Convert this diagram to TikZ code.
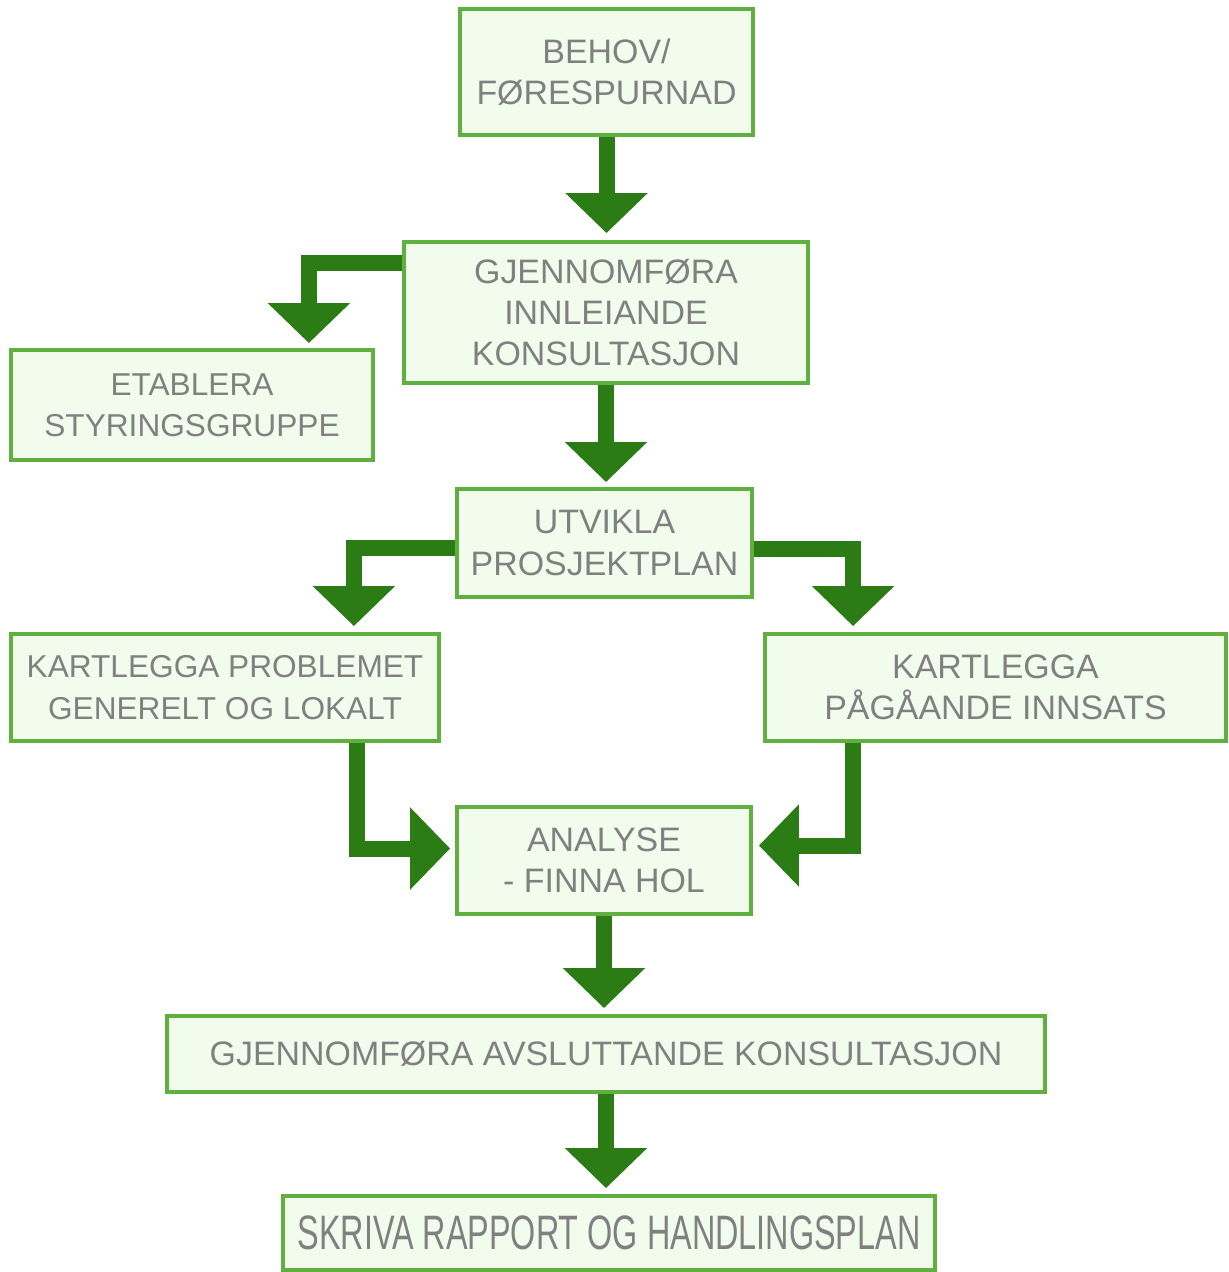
\documentclass[tikz,border=0pt]{standalone}
\usepackage{fontspec}
\setmainfont{Liberation Sans}
\usetikzlibrary{arrows.meta,calc}
\definecolor{boxline}{RGB}{96,176,64}
\definecolor{boxfill}{RGB}{241,252,236}
\definecolor{arrowgreen}{RGB}{44,124,22}
\definecolor{txtgray}{RGB}{128,128,128}
\begin{document}
\begin{tikzpicture}[x=0.02cm,y=-0.02cm,
  box/.style={draw=boxline, fill=boxfill, line width=2.2pt, inner sep=0pt,
    align=center, text=txtgray, font=\fontsize{19.3}{23.5}\selectfont},
  smalltext/.style={font=\fontsize{18}{23.5}\selectfont},
  bigarrow/.style={draw=arrowgreen, line width=0.32cm, line join=miter,
    -{Triangle[length=0.8cm,width=1.6cm]}}]
\useasboundingbox (0,0) rectangle (1229,1272);

\node[box, minimum width=5.86cm, minimum height=2.52cm] (b1) at (606.5,72) {BEHOV/\\FØRESPURNAD};
\node[box, minimum width=8.08cm, minimum height=2.82cm] (b2) at (606,312.5) {GJENNOMFØRA\\INNLEIANDE\\KONSULTASJON};
\node[box, smalltext, minimum width=7.24cm, minimum height=2.2cm] (b3) at (192,405) {ETABLERA\\STYRINGSGRUPPE};
\node[box, minimum width=5.9cm, minimum height=2.16cm] (b4) at (604.5,543) {UTVIKLA\\PROSJEKTPLAN};
\node[box, smalltext, minimum width=8.56cm, minimum height=2.14cm] (b5) at (225,687.5) {KARTLEGGA PROBLEMET\\GENERELT OG LOKALT};
\node[box, minimum width=9.22cm, minimum height=2.14cm] (b6) at (995.5,687.5) {KARTLEGGA\\PÅGÅANDE INNSATS};
\node[box, minimum width=5.88cm, minimum height=2.14cm] (b7) at (604,860.5) {ANALYSE\\- FINNA HOL};
\node[box, minimum width=17.56cm, minimum height=1.52cm] (b8) at (606,1054) {GJENNOMFØRA AVSLUTTANDE KONSULTASJON};
\node[box, minimum width=13.04cm, minimum height=1.48cm, font=\fontsize{27.5}{30}\selectfont] (b9) at (609,1233) {\scalebox{0.67}[1]{SKRIVA RAPPORT OG HANDLINGSPLAN}};

% straight arrows
\draw[bigarrow, shorten >=0.14cm] (b1.south) -- (b1.south |- b2.north);
\draw[bigarrow, shorten >=0.1cm] (b2.south) -- (b2.south |- b4.north);
\draw[bigarrow, shorten >=0.12cm] (b7.south) -- (b7.south |- b8.north);
\draw[bigarrow, shorten >=0.12cm] (b8.south) -- (b8.south |- b9.north);

% elbow arrows
\draw[bigarrow, shorten >=0.1cm] ($(b2.north west)+(0,23)$) -| ($(b3.north east)+(-66,0)$);
\draw[bigarrow, shorten >=0.12cm] ($(b4.north west)+(0,61)$) -| ($(b5.north east)+(-87,0)$);
\draw[bigarrow, shorten >=0.12cm] ($(b4.north east)+(0,62)$) -| ($(b6.north west)+(90,0)$);
\draw[bigarrow, shorten >=0.1cm] ($(b5.south east)+(-84,0)$) |- ($(b7.west)+(0,-12)$);
\draw[bigarrow, shorten >=0.12cm] ($(b6.south west)+(90,0)$) |- ($(b7.east)+(0,-15)$);
\end{tikzpicture}
\end{document}
